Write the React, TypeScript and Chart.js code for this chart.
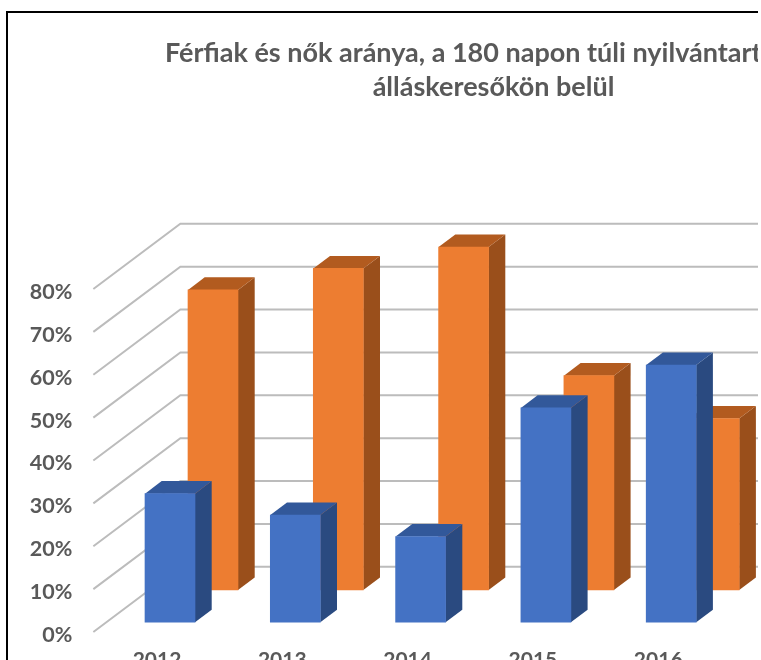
import React, { useEffect, useRef } from "react";
import { Chart, registerables } from "chart.js";

Chart.register(...registerables);

const titleLines = ["Férfiak és nők aránya, a 180 napon túli nyilvántartott\u00a0\u00a0\u00a0\u00a0", "álláskeresőkön belül"];
const categories = ["2012", "2013", "2014", "2015", "2016"];
const maleShare = [30, 25, 20, 50, 60];
const femaleShare = [70, 75, 80, 50, 40];

const FONT = "Lato, 'Open Sans', sans-serif";
const DEPTH_RATIO = 0.75;
const seriesDepth = [
  { dx: 13, top: "#32589a", side: "#2a4a80" },
  { dx: 56, top: "#b25b1f", side: "#9a4f1b" },
];
const BAR_DEPTH = 16.7;
const WALL_DEPTH = 87;

const bars3d = {
  id: "bars3d",
  beforeDatasetsDraw(chart: any) {
    const { ctx, scales } = chart;
    const y = scales.y;
    const x0 = scales.x.left - 1;
    ctx.save();
    ctx.strokeStyle = "#bcbcbc";
    ctx.lineWidth = 2;
    for (const t of y.ticks) {
      const py = y.getPixelForValue(t.value);
      ctx.beginPath();
      ctx.moveTo(x0, py);
      ctx.lineTo(x0 + WALL_DEPTH, py - WALL_DEPTH * DEPTH_RATIO);
      ctx.lineTo(chart.width, py - WALL_DEPTH * DEPTH_RATIO);
      ctx.stroke();
    }
    ctx.restore();
  },
  beforeDatasetDraw(chart: any, args: any) {
    const { ctx } = chart;
    const s = seriesDepth[args.index];
    ctx.save();
    ctx.translate(s.dx, -s.dx * DEPTH_RATIO);
    const dx = BAR_DEPTH;
    const dy = BAR_DEPTH * DEPTH_RATIO;
    for (const bar of args.meta.data) {
      const l = bar.x - bar.width / 2;
      const r = bar.x + bar.width / 2;
      ctx.fillStyle = s.side;
      ctx.beginPath();
      ctx.moveTo(r, bar.y);
      ctx.lineTo(r + dx, bar.y - dy);
      ctx.lineTo(r + dx, bar.base - dy);
      ctx.lineTo(r, bar.base);
      ctx.closePath();
      ctx.fill();
      ctx.fillStyle = s.top;
      ctx.beginPath();
      ctx.moveTo(l, bar.y);
      ctx.lineTo(l + dx, bar.y - dy);
      ctx.lineTo(r + dx, bar.y - dy);
      ctx.lineTo(r, bar.y);
      ctx.closePath();
      ctx.fill();
    }
  },
  afterDatasetDraw(chart: any) {
    chart.ctx.restore();
  },
};

export default function App() {
  const ref = useRef<HTMLCanvasElement>(null);
  useEffect(() => {
    const chart = new Chart(ref.current!, {
      type: "bar",
      data: {
        labels: categories,
        datasets: [
          { label: "Férfiak", data: maleShare, backgroundColor: "#4472c4", clip: false as any },
          { label: "Nők", data: femaleShare, backgroundColor: "#ed7d31", clip: false as any },
        ],
      },
      options: {
        animation: false,
        responsive: false,
        grouped: false,
        barThickness: 50,
        layout: { padding: 0 },
        plugins: {
          legend: { display: false },
          tooltip: { enabled: false },
          title: {
            display: true,
            text: titleLines,
            color: "#595959",
            font: { family: FONT, size: 27, weight: "bold", lineHeight: 34 / 27 },
            padding: { top: 36, bottom: 185 },
          },
        },
        scales: {
          x: {
            grid: { display: false },
            border: { display: false },
            afterFit: (s: any) => { s.height = 68; },
            ticks: { color: "#595959", font: { family: FONT, size: 21, weight: "bold" }, padding: 8, maxRotation: 0 },
          },
          y: {
            min: 0,
            max: 80,
            grid: { display: false },
            border: { display: false },
            afterFit: (s: any) => { s.width = 94.35; },
            ticks: {
              stepSize: 10,
              color: "#595959",
              font: { family: FONT, size: 21.5, weight: "bold" },
              padding: 14,
              labelOffset: 3,
              callback: (v: any) => `${v}%`,
            },
          },
          spare: {
            position: "right",
            grid: { display: false },
            border: { display: false },
            ticks: { display: false },
            afterFit: (s: any) => { s.width = 266.15; },
          },
        },
      } as any,
      plugins: [bars3d],
    });
    return () => chart.destroy();
  }, []);
  return (
    <div style={{ position: "fixed", left: 0, top: 0, width: 761, height: 660, overflow: "hidden", background: "#fff" }}>
      <div style={{ position: "absolute", left: 0, top: 0, width: 758, height: 660, overflow: "hidden" }}>
        <canvas ref={ref} width={987} height={700} style={{ display: "block", filter: "blur(0.6px)" }} />
        <div style={{ position: "absolute", left: 6, top: 11, width: 800, height: 700, borderLeft: "2px solid #000", borderTop: "2px solid #000" }} />
      </div>
    </div>
  );
}
